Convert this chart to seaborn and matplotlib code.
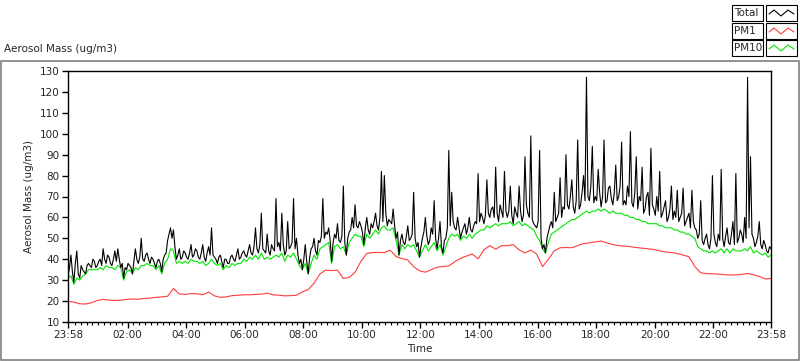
import matplotlib
matplotlib.use("Agg")
import matplotlib.pyplot as plt
from matplotlib.lines import Line2D
from matplotlib.patches import Rectangle
import numpy as np
import pandas as pd
import seaborn as sns

# time axis in hours after midnight, first sample at 23:58 the day before
t_fast = -2 / 60 + 0.05 * np.arange(481)  # 3 min samples (total)
t_mid = -2 / 60 + 0.1 * np.arange(241)    # 6 min samples (PM10)
t_slow = -2 / 60 + 0.2 * np.arange(121)   # 12 min samples (PM1)

# total, read at the 6 min marks
total = [
    32, 42, 29, 44, 31, 35, 33, 38, 36, 39,
    37, 40, 45, 38, 41, 37, 44, 45, 36, 31,
    35, 37, 33, 45, 38, 50, 39, 43, 38, 40,
    36, 40, 34, 42, 49, 55, 54, 40, 45, 41,
    43, 40, 47, 42, 44, 40, 47, 39, 46, 55,
    41, 38, 42, 36, 40, 38, 42, 39, 45, 41,
    44, 41, 47, 42, 55, 43, 62, 44, 52, 42,
    45, 69, 48, 62, 42, 58, 46, 69, 50, 38,
    35, 47, 33, 45, 50, 42, 48, 69, 53, 55,
    39, 52, 57, 48, 75, 42, 53, 60, 66, 55,
    56, 47, 60, 52, 55, 62, 54, 82, 80, 56,
    58, 64, 50, 42, 52, 47, 56, 50, 72, 46,
    41, 50, 60, 47, 55, 68, 45, 58, 43, 50,
    92, 72, 55, 60, 50, 55, 52, 60, 53, 58,
    81, 62, 57, 78, 60, 65, 84, 58, 63, 82,
    60, 75, 57, 62, 75, 58, 89, 62, 99, 57,
    55, 92, 45, 43, 53, 58, 72, 60, 79, 65,
    90, 64, 78, 62, 97, 66, 80, 127, 68, 94,
    70, 83, 65, 97, 68, 75, 66, 85, 70, 96,
    68, 75, 101, 65, 89, 70, 84, 64, 72, 93,
    64, 70, 82, 62, 68, 60, 75, 63, 73, 60,
    74, 58, 62, 73, 55, 50, 68, 47, 52, 45,
    80, 48, 52, 83, 46, 55, 47, 58, 81, 50,
    52, 60, 127, 89, 50, 48, 58, 45, 47, 43, 45,
]

# total, read half way between the 6 min marks
total_mid = [
    36, 34, 38, 33, 37, 34, 37, 37, 40, 36,
    39, 37, 40, 42, 38, 40, 39, 40, 38, 36,
    38, 36, 39, 40, 41, 40, 42, 40, 41, 38,
    39, 38, 40, 43, 52, 50, 46, 42, 40, 44,
    41, 43, 41, 45, 41, 43, 41, 43, 42, 42,
    40, 41, 39, 40, 38, 41, 40, 42, 40, 43,
    42, 44, 43, 46, 45, 47, 45, 43, 44, 47,
    44, 46, 44, 47, 44, 45, 48, 45, 42, 40,
    40, 39, 41, 46, 44, 49, 51, 50, 52, 49,
    48, 50, 49, 51, 48, 50, 54, 55, 56, 58,
    53, 55, 54, 57, 58, 56, 60, 58, 62, 59,
    57, 56, 53, 49, 48, 51, 49, 52, 50, 48,
    46, 53, 51, 49, 52, 50, 50, 46, 49, 55,
    56, 58, 54, 55, 53, 57, 55, 54, 56, 57,
    58, 60, 61, 62, 64, 60, 62, 66, 60, 63,
    63, 61, 65, 60, 63, 61, 66, 60, 59, 56,
    58, 50, 47, 50, 56, 55, 58, 62, 60, 64,
    66, 70, 65, 68, 64, 72, 68, 70, 75, 67,
    68, 72, 70, 67, 74, 69, 72, 68, 75, 66,
    66, 70, 67, 72, 64, 68, 62, 70, 61, 66,
    61, 63, 60, 65, 58, 64, 59, 60, 58, 62,
    56, 60, 55, 58, 54, 52, 49, 50, 47, 50,
    52, 46, 49, 50, 51, 48, 52, 47, 48, 54,
    48, 50, 55, 52, 46, 51, 47, 49, 44, 46,
]

pm10 = [
    31, 32, 28, 31, 30, 32, 33, 35, 35, 35,
    35, 36, 35, 37, 36, 36, 35, 37, 36, 30,
    34, 35, 33, 36, 35, 37, 37, 38, 37, 37,
    35, 37, 33, 38, 40, 45, 44, 38, 39, 38,
    39, 38, 40, 39, 39, 38, 39, 37, 38, 40,
    38, 37, 38, 35, 37, 36, 38, 37, 38, 38,
    40, 39, 41, 40, 42, 40, 43, 40, 41, 40,
    41, 42, 41, 43, 39, 42, 41, 43, 40, 37,
    35, 38, 33, 38, 42, 40, 45, 46, 47, 48,
    38, 46, 47, 45, 46, 42, 48, 50, 52, 51,
    51, 46, 52, 50, 52, 54, 52, 55, 56, 54,
    54, 55, 49, 42, 47, 45, 47, 46, 47, 44,
    41, 44, 47, 44, 46, 48, 44, 47, 42, 46,
    50, 52, 51, 52, 49, 51, 50, 52, 50, 52,
    53, 54, 54, 56, 55, 56, 57, 56, 57, 57,
    57, 58, 56, 57, 58, 56, 57, 56, 55, 54,
    51, 49, 45, 43, 48, 52, 53, 54, 55, 56,
    57, 58, 59, 59, 60, 61, 62, 63, 62, 63,
    63, 64, 63, 64, 63, 62, 63, 62, 62, 62,
    61, 61, 60, 60, 59, 59, 58, 58, 57, 57,
    57, 57, 56, 56, 55, 55, 55, 54, 54, 53,
    53, 52, 52, 51, 50, 46, 45, 44, 44, 43,
    44, 43, 44, 45, 43, 45, 43, 45, 44, 44,
    44, 45, 44, 46, 43, 44, 43, 42, 43, 41, 42,
]

pm1 = [
    19.8, 19.5, 18.7, 18.6, 19.2, 20.3, 20.8, 20.5, 20.3, 20.4,
    20.8, 21.0, 20.9, 21.3, 21.4, 21.8, 22.0, 22.3, 26.0, 23.4,
    23.2, 23.6, 23.5, 23.0, 24.3, 22.5, 21.8, 22.0, 22.6, 22.8,
    23.0, 23.0, 23.2, 23.3, 23.8, 23.0, 22.8, 22.5, 22.6, 22.8,
    24.4, 25.5, 28.5, 33.0, 34.8, 34.6, 34.8, 30.8, 31.3, 33.8,
    39.0, 42.8, 43.2, 43.3, 43.2, 44.3, 41.3, 40.3, 39.6, 36.5,
    34.5, 33.8, 35.0, 36.2, 36.5, 36.8, 38.8, 40.4, 41.5, 42.5,
    40.2, 44.5, 46.5, 44.8, 46.5, 46.5, 47.0, 44.5, 43.0, 44.4,
    42.5, 36.5, 40.0, 44.0, 45.5, 45.6, 45.5, 46.5, 47.5, 47.8,
    48.3, 48.7, 47.8, 47.0, 46.5, 46.3, 46.0, 45.6, 45.3, 45.0,
    44.7, 44.0, 43.5, 43.2, 42.8, 42.0, 41.2, 36.5, 33.5, 33.2,
    33.0, 32.9, 32.6, 32.5, 32.5, 32.8, 33.2, 32.6, 31.8, 30.6,
    30.8,
]

tick_pos = [-2 / 60] + list(range(2, 24, 2)) + [24 - 2 / 60]
tick_lab = ["23:58", "02:00", "04:00", "06:00", "08:00", "10:00", "12:00",
            "14:00", "16:00", "18:00", "20:00", "22:00", "23:58"]

colors = {"Total": "#000000", "PM1": "#ff3c3c", "PM10": "#00e600"}

# merge the two total readings into one 3 min series
total_all = np.empty(481)
total_all[0::2] = total
total_all[1::2] = total_mid

df = pd.concat([
    pd.DataFrame({"hour": t_slow, "value": pm1, "series": "PM1"}),
    pd.DataFrame({"hour": t_mid, "value": pm10, "series": "PM10"}),
    pd.DataFrame({"hour": t_fast, "value": total_all, "series": "Total"}),
], ignore_index=True)

sns.set_style("ticks")
plt.rcParams["font.family"] = ["DejaVu Sans"]
plt.rcParams["font.size"] = 7.5

W, H = 800, 361
fig = plt.figure(figsize=(W / 100, H / 100), dpi=100)


def fx(x):
    return x / W


def fy(y):
    return 1 - y / H


ax = fig.add_axes([fx(68), fy(322), (771 - 68) / W, (322 - 71) / H])
sns.lineplot(data=df, x="hour", y="value", hue="series",
             hue_order=["PM1", "PM10", "Total"], palette=colors,
             estimator=None, sort=False, linewidth=0.8, legend=False, ax=ax)

ax.set_xlim(-2 / 60, 24 - 2 / 60)
ax.set_ylim(10, 130)
ax.set_yticks(range(10, 131, 10))
ax.set_xticks(tick_pos)
ax.set_xticklabels(tick_lab)
ax.set_xticks([m for m in np.arange(0.2, 24, 0.2) if abs(m / 2 - round(m / 2)) > 0.01],
              minor=True)
ax.tick_params(axis="both", which="major", length=4, width=1, color="black",
               labelsize=7.5, pad=2)
ax.tick_params(axis="x", which="minor", length=2.5, width=0.8, color="black")
for s in ax.spines.values():
    s.set_linewidth(1)
    s.set_color("black")
ax.set_xlabel("Time", fontsize=7.5, labelpad=3)
ax.set_ylabel("Aerosol Mass (ug/m3)", fontsize=7.5, labelpad=4)

# outer panel frame
fig.add_artist(Rectangle((fx(1), fy(360)), fx(798), (360 - 61) / H,
                         transform=fig.transFigure, fill=False,
                         edgecolor="#7f7f7f", linewidth=1.2))
fig.text(fx(4), fy(49), "Aerosol Mass (ug/m3)", fontsize=7.5, va="center", ha="left")

# legend boxes
rows = [("Total", 13), ("PM1", 31), ("PM10", 48)]
for name, yc in rows:
    fig.add_artist(Rectangle((fx(732), fy(yc + 8)), 31 / W, 16 / H,
                             transform=fig.transFigure, fill=False,
                             edgecolor="black", linewidth=0.8))
    fig.add_artist(Rectangle((fx(766), fy(yc + 8)), 31 / W, 16 / H,
                             transform=fig.transFigure, fill=False,
                             edgecolor="black", linewidth=0.8))
    fig.text(fx(734), fy(yc), name, fontsize=7.5, va="center", ha="left")
    xs = [769, 774, 781, 788, 794]
    ys = [yc + 1, yc - 3, yc + 3, yc - 3, yc + 1]
    fig.add_artist(Line2D([fx(v) for v in xs], [fy(v) for v in ys],
                          transform=fig.transFigure, color=colors[name],
                          linewidth=0.8))

fig.savefig("out.png", dpi=100)
